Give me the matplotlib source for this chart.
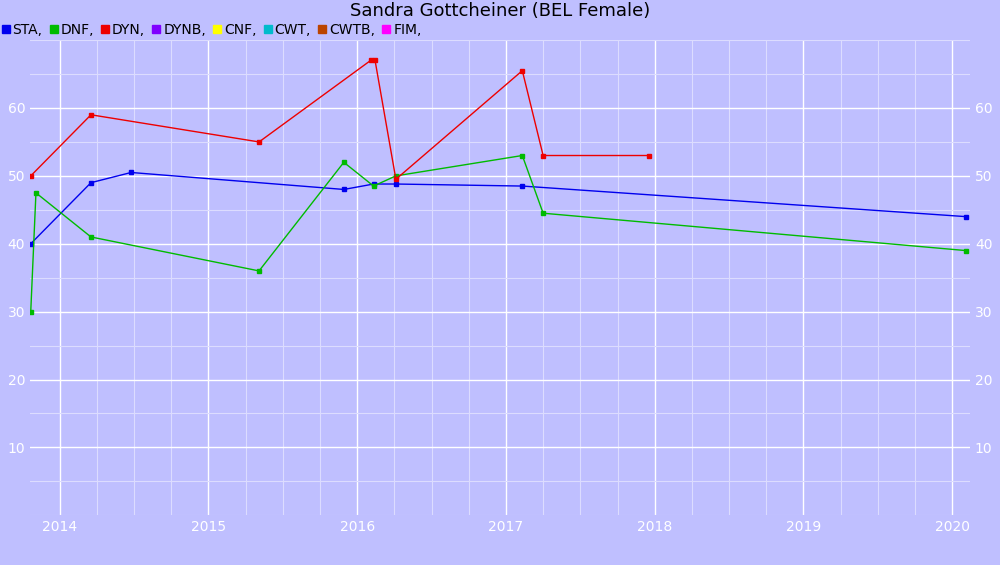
import matplotlib.pyplot as plt
from matplotlib.ticker import MultipleLocator, FixedLocator
from matplotlib.lines import Line2D

# dates as decimal years
sta_x = [2013.805, 2014.21, 2014.48, 2015.91, 2016.11, 2016.26, 2017.11, 2020.09]
sta_y = [40, 49, 50.5, 48, 48.8, 48.8, 48.5, 44]
dnf_x = [2013.805, 2013.84, 2014.21, 2015.34, 2015.91, 2016.11, 2016.26, 2017.11, 2017.25, 2020.09]
dnf_y = [30, 47.5, 41, 36, 52, 48.5, 50, 53, 44.5, 39]
dyn_x = [2013.805, 2014.21, 2015.34, 2016.09, 2016.12, 2016.26, 2017.11, 2017.25, 2017.96]
dyn_y = [50, 59, 55, 67, 67, 49.5, 65.5, 53, 53]

legend_names = ["STA", "DNF", "DYN", "DYNB", "CNF", "CWT", "CWTB", "FIM"]
legend_colors = ["#0000ee", "#00bb00", "#ee0000", "#7f00ff", "#ffff00", "#00bbcc", "#bb4400", "#ff00ff"]

bg = "#bfbfff"
fig = plt.figure(figsize=(10, 5.65), dpi=100, facecolor=bg)
ax = fig.add_axes([0.03, 0.088, 0.94, 0.841], facecolor=bg)

for x, y, c in [(sta_x, sta_y, legend_colors[0]), (dnf_x, dnf_y, legend_colors[1]), (dyn_x, dyn_y, legend_colors[2])]:
    ax.plot(x, y, color=c, lw=1, marker="s", ms=3.5)

ax.set_xlim(2013.8, 2020.12)
ax.set_ylim(0, 70)
ax.xaxis.set_major_locator(FixedLocator(range(2014, 2021)))
ax.set_xticklabels([str(y) for y in range(2014, 2021)])
ax.xaxis.set_minor_locator(MultipleLocator(0.25))
ax.yaxis.set_major_locator(FixedLocator([10, 20, 30, 40, 50, 60]))
ax.yaxis.set_minor_locator(MultipleLocator(5))
ax.grid(which="major", color="white", lw=1)
ax.grid(which="minor", color="#dcdcff", lw=0.8)
ax.set_axisbelow(True)
for s in ax.spines.values():
    s.set_visible(False)
ax.tick_params(which="both", length=0, colors="white", labelsize=10, right=True, labelright=True)

fig.text(0.5, 0.981, "Sandra Gottcheiner (BEL Female)", ha="center", va="center", fontsize=13)
handles = [Line2D([], [], ls="none", marker="s", ms=6, color=c) for c in legend_colors]
fig.legend(handles, [n + "," for n in legend_names], loc="upper left", bbox_to_anchor=(0.0, 0.962),
           ncol=8, frameon=False, handlelength=0.6, handletextpad=0.2, columnspacing=0.5, fontsize=10,
           borderaxespad=0, borderpad=0.1)

fig.savefig("out.png", facecolor=bg)
